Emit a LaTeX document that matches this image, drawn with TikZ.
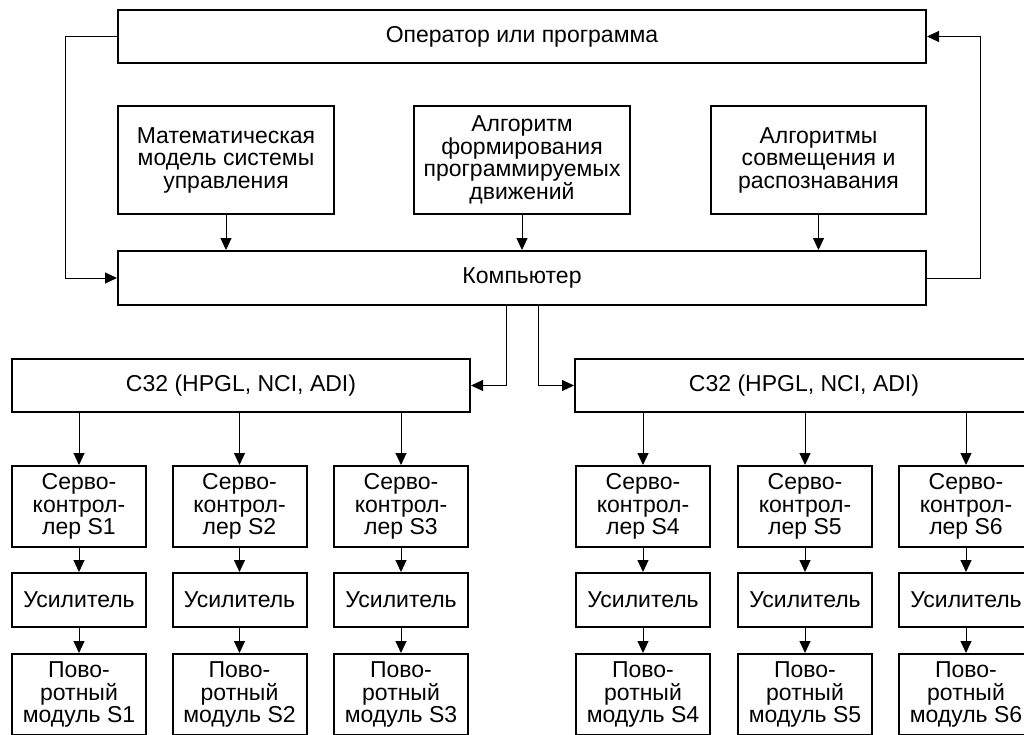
\documentclass[tikz,border=0pt]{standalone}
\usepackage{fontspec}
\setmainfont{Liberation Sans}
\usetikzlibrary{arrows.meta}
\tikzset{
  box/.style={draw, line width=2pt, inner sep=0pt, align=center,
    font=\fontsize{23}{22.5}\selectfont},
  conn/.style={line width=1pt, -{Triangle[length=12pt,width=11pt]}},
  plain/.style={line width=1pt}
}
\begin{document}
\begin{tikzpicture}[x=1pt,y=-1pt]
\useasboundingbox (0,0) rectangle (1024,734);
\clip (0,0) rectangle (1024,734);
% top
\node[box, minimum width=808, minimum height=53] (op) at (522,36.5) {Оператор или программа};
\node[box, minimum width=216, minimum height=108] (math) at (226,160) {Математическая\\модель системы\\управления};
\node[box, minimum width=216, minimum height=108] (alg) at (522,160) {Алгоритм\\формирования\\программируемых\\движений};
\node[box, minimum width=215, minimum height=108] (rec) at (818.5,160) {Алгоритмы\\совмещения и\\распознавания};
\node[box, minimum width=808, minimum height=54] (comp) at (522,278) {Компьютер};
% C32
\node[box, minimum width=458, minimum height=53] (cL) at (241,385.5) {C32 (HPGL, NCI, ADI)};
\node[box, minimum width=458, minimum height=53] (cR) at (804,385.5) {C32 (HPGL, NCI, ADI)};
% columns
\foreach \n/\x in {1/79,2/239.5,3/401,4/643,5/805,6/966}{
  \node[box, minimum width=134, minimum height=81] (s\n) at (\x,506.5) {Серво-\\контрол-\\лер S\n};
  \node[box, minimum width=134, minimum height=54] (a\n) at (\x,600) {Усилитель};
  \node[box, minimum width=134, minimum height=81] (m\n) at (\x,694.5) {Пово-\\ротный\\модуль S\n};
  \draw[conn] (s\n) -- (a\n);
  \draw[conn] (a\n) -- (m\n);
}
\foreach \n in {1,2,3}{ \draw[conn] (cL.south -| s\n) -- (s\n); }
\foreach \n in {4,5,6}{ \draw[conn] (cR.south -| s\n) -- (s\n); }
% feedback loops
\coordinate (lf) at (65,36.5);
\coordinate (rf) at (980,36.5);
\draw[conn] (op.west) -- (lf) |- (comp.west);
\draw[conn] (comp.east) -| (rf) -- (op.east);
% inputs to computer
\draw[conn] (math) -- (comp.north -| math);
\draw[conn] (alg) -- (comp.north -| alg);
\draw[conn] (rec) -- (comp.north -| rec);
% computer to C32
\coordinate (dl) at (506,305);
\coordinate (dr) at (538,305);
\draw[conn] (dl) |- (cL.east);
\draw[conn] (dr) |- (cR.west);
\end{tikzpicture}
\end{document}
